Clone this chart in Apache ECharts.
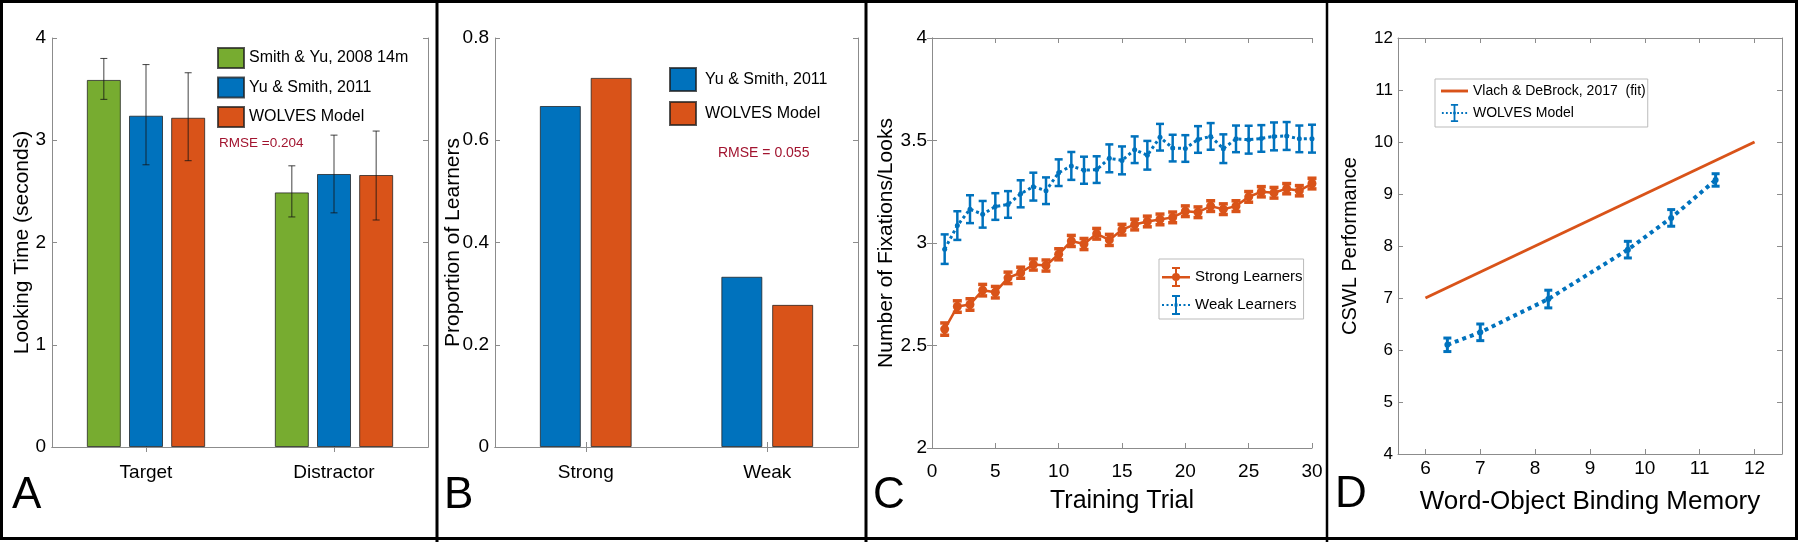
<!DOCTYPE html>
<html><head><meta charset="utf-8">
<script src="https://cdn.jsdelivr.net/npm/echarts@6/dist/echarts.min.js"></script>
<style>html,body{margin:0;padding:0;background:#fff}#c{width:1800px;height:542px}</style>
</head><body><div id="c"></div><script>
// ---------- DATA ----------
// Panel A
const catsA = ['Target', 'Distractor'];
const smithYu2008 = [3.59, 2.49];
const smithYu2008Lo = [3.40, 2.25];
const smithYu2008Hi = [3.80, 2.75];
const yuSmith2011A = [3.24, 2.67];
const yuSmith2011ALo = [2.76, 2.29];
const yuSmith2011AHi = [3.74, 3.05];
const wolvesA = [3.22, 2.66];
const wolvesALo = [2.80, 2.22];
const wolvesAHi = [3.66, 3.09];
const yTicksA = [0, 1, 2, 3, 4];
// Panel B
const catsB = ['Strong', 'Weak'];
const yuSmith2011B = [0.667, 0.333];
const wolvesB = [0.722, 0.278];
const yTicksB = [0, 0.2, 0.4, 0.6, 0.8];
// Panel C
const trials = [1,2,3,4,5,6,7,8,9,10,11,12,13,14,15,16,17,18,19,20,21,22,23,24,25,26,27,28,29,30];
const strongMean = [2.58,2.69,2.70,2.77,2.76,2.83,2.855,2.895,2.89,2.945,3.01,2.995,3.045,3.015,3.065,3.09,3.105,3.115,3.125,3.155,3.15,3.18,3.165,3.18,3.225,3.25,3.245,3.265,3.255,3.29];
const strongErr = [0.03,0.028,0.028,0.028,0.028,0.028,0.027,0.027,0.027,0.027,0.027,0.027,0.026,0.027,0.026,0.026,0.026,0.026,0.026,0.026,0.026,0.026,0.026,0.026,0.026,0.025,0.026,0.025,0.025,0.026];
const weakMean = [2.97,3.085,3.165,3.14,3.178,3.188,3.24,3.275,3.255,3.343,3.376,3.355,3.358,3.413,3.403,3.455,3.428,3.516,3.463,3.461,3.505,3.52,3.46,3.508,3.504,3.51,3.52,3.522,3.508,3.509];
const weakErr = [0.072,0.07,0.068,0.065,0.065,0.065,0.066,0.068,0.065,0.065,0.068,0.066,0.065,0.068,0.068,0.065,0.07,0.065,0.065,0.065,0.065,0.065,0.07,0.065,0.068,0.065,0.068,0.068,0.065,0.068];
const xTicksC = [0, 5, 10, 15, 20, 25, 30];
const yTicksC = [2, 2.5, 3, 3.5, 4];
// Panel D
const fitX = [6, 12];
const fitY = [7, 10];
const memoryX = [6.4, 7.0, 8.24, 9.69, 10.48, 11.29];
const cswlModel = [6.10, 6.34, 6.98, 7.93, 8.54, 9.27];
const cswlErr = [0.13, 0.16, 0.17, 0.16, 0.16, 0.12];
const xTicksD = [6, 7, 8, 9, 10, 11, 12];
const yTicksD = [4, 5, 6, 7, 8, 9, 10, 11, 12];

const legendNames = {
  A_sy08: 'Smith & Yu, 2008 14m', A_ys11: 'Yu & Smith, 2011', A_wol: 'WOLVES Model',
  B_ys11: 'Yu & Smith, 2011', B_wol: 'WOLVES Model',
  C_strong: 'Strong Learners', C_weak: 'Weak Learners',
  D_fit: 'Vlach & DeBrock, 2017  (fit)', D_wol: 'WOLVES Model'
};

// ---------- STYLE ----------
const GREEN = '#77AC30', BLUE = '#0072BD', ORANGE = '#D95319', RMSE_C = '#A2142F';
const AX = '#8c8c8c';
const REG = "'Liberation Sans',Arial,sans-serif";

// legend icon shapes (28 x 20 box)
const ICON_BEAM = 'M10,0h8v2h-3v16h3v2h-8v-2h3v-16h-3z';
const ICON_DOTS = 'M0,9h2v2h-2zM4.5,9h2v2h-2zM9,9h2v2h-2zM17,9h2v2h-2zM21.5,9h2v2h-2zM26,9h2v2h-2z';
const ICON_DOT = 'M12.5,8.5h3v3h-3z';
const ICON_SOLID = 'M0,9h28v2.5h-28z';
const ICON_CIRCLE = 'M10,10a4,4 0 1,1 8,0a4,4 0 1,1 -8,0z';

const grids = [
  {left: 52, top: 38, width: 376, height: 409},
  {left: 495, top: 38, width: 363, height: 409},
  {left: 932, top: 38, width: 380, height: 410},
  {left: 1398, top: 38, width: 384, height: 416}
];

function lineStyleAx() { return {show: true, lineStyle: {color: AX, width: 1}}; }
function tickStyle(custom) {
  const t = {show: true, inside: true, length: 5, lineStyle: {color: AX, width: 1}};
  if (custom) t.customValues = custom;
  return t;
}

function catAxis(g, data, pos, label) {
  return {
    type: 'category', gridIndex: g, data: data, position: pos, boundaryGap: true,
    axisLine: lineStyleAx(), axisTick: Object.assign(tickStyle(), {alignWithLabel: true}),
    axisLabel: label ? label : {show: false}, splitLine: {show: false}
  };
}
function valAxis(g, pos, ticks, label, name, nameOpt, minV, maxV) {
  const ax = {
    type: 'value', gridIndex: g, position: pos,
    min: minV !== undefined ? minV : ticks[0], max: maxV !== undefined ? maxV : ticks[ticks.length - 1],
    axisLine: lineStyleAx(), axisTick: tickStyle(ticks),
    axisLabel: label ? Object.assign({customValues: ticks}, label) : {show: false},
    splitLine: {show: false}
  };
  if (name) Object.assign(ax, {name: name, nameLocation: 'middle', nameMoveOverlap: false}, nameOpt);
  return ax;
}

const lab = (size, margin) => ({show: true, color: '#000', fontFamily: REG, fontSize: size, margin: margin});
const yName = (gap, size) => ({nameGap: gap, nameRotate: 90, nameTextStyle: {color: '#000', fontFamily: REG, fontSize: size}});

const xAxes = [
  catAxis(0, catsA, 'bottom', lab(19, 16)),
  catAxis(0, catsA, 'top', null),
  catAxis(1, catsB, 'bottom', lab(19, 16)),
  catAxis(1, catsB, 'top', null),
  valAxis(2, 'bottom', xTicksC, lab(19, 14), 'Training Trial',
    {nameGap: 41, nameTextStyle: {color: '#000', fontFamily: REG, fontSize: 25}}),
  valAxis(2, 'top', xTicksC, null),
  valAxis(3, 'bottom', xTicksD, lab(19, 5), 'Word-Object Binding Memory',
    {nameGap: 35, nameTextStyle: {color: '#000', fontFamily: REG, fontSize: 26}}, 5.5, 12.5),
  valAxis(3, 'top', xTicksD, null, null, null, 5.5, 12.5)
];
const yAxes = [
  valAxis(0, 'left', yTicksA, lab(19, 6), 'Looking Time (seconds)', yName(19, 21)),
  valAxis(0, 'right', yTicksA, null),
  valAxis(1, 'left', yTicksB, lab(19, 6), 'Proportion of Learners', yName(31, 21)),
  valAxis(1, 'right', yTicksB, null),
  valAxis(2, 'left', yTicksC, lab(19, 5), 'Number of Fixations/Looks', yName(35, 21)),
  valAxis(2, 'right', yTicksC, null),
  valAxis(3, 'left', yTicksD, lab(17, 5), 'CSWL Performance', yName(38, 20)),
  valAxis(3, 'right', yTicksD, null)
];

// error bars for grouped bars
function barErr(idx, n, bw, gapR, cap, color, lw) {
  return function (params, api) {
    const pLo = api.coord([api.value(0), api.value(1)]);
    const pHi = api.coord([api.value(0), api.value(2)]);
    const cx = pLo[0] + (idx - (n - 1) / 2) * bw * (1 + gapR);
    const st = {stroke: color, lineWidth: lw};
    return {type: 'group', children: [
      {type: 'line', shape: {x1: cx, y1: pLo[1], x2: cx, y2: pHi[1]}, style: st},
      {type: 'line', shape: {x1: cx - cap, y1: pLo[1], x2: cx + cap, y2: pLo[1]}, style: st},
      {type: 'line', shape: {x1: cx - cap, y1: pHi[1], x2: cx + cap, y2: pHi[1]}, style: st}
    ]};
  };
}
function pointErr(cap, color, lw) {
  return function (params, api) {
    const pLo = api.coord([api.value(0), api.value(1)]);
    const pHi = api.coord([api.value(0), api.value(2)]);
    const cx = pLo[0];
    const st = {stroke: color, lineWidth: lw};
    return {type: 'group', children: [
      {type: 'line', shape: {x1: cx, y1: pLo[1], x2: cx, y2: pHi[1]}, style: st},
      {type: 'line', shape: {x1: cx - cap, y1: pLo[1], x2: cx + cap, y2: pLo[1]}, style: st},
      {type: 'line', shape: {x1: cx - cap, y1: pHi[1], x2: cx + cap, y2: pHi[1]}, style: st}
    ]};
  };
}
const catErrData = (lo, hi) => lo.map((v, i) => [i, v, hi[i]]);
const ptErrData = (xs, m, e) => xs.map((x, i) => [x, m[i] - e[i], m[i] + e[i]]);
const pairs = (xs, ys) => xs.map((x, i) => [x, ys[i]]);

const BW_A = 34, GAP_A = 0.24, BW_B = 41;
const barBorder = {borderColor: 'rgba(30,30,30,0.75)', borderWidth: 1};
const errCol = 'rgba(20,20,20,0.8)';

const series = [
  // A
  {type: 'bar', name: 'A_sy08', xAxisIndex: 0, yAxisIndex: 0, data: smithYu2008, barWidth: BW_A, barGap: '24%', itemStyle: Object.assign({color: GREEN}, barBorder)},
  {type: 'bar', name: 'A_ys11', xAxisIndex: 0, yAxisIndex: 0, data: yuSmith2011A, barWidth: BW_A, barGap: '24%', itemStyle: Object.assign({color: BLUE}, barBorder)},
  {type: 'bar', name: 'A_wol', xAxisIndex: 0, yAxisIndex: 0, data: wolvesA, barWidth: BW_A, barGap: '24%', itemStyle: Object.assign({color: ORANGE}, barBorder)},
  {type: 'custom', xAxisIndex: 0, yAxisIndex: 0, data: catErrData(smithYu2008Lo, smithYu2008Hi), encode: {x: 0, y: [1, 2]}, renderItem: barErr(0, 3, BW_A, GAP_A, 3.5, errCol, 1), z: 5, silent: true},
  {type: 'custom', xAxisIndex: 0, yAxisIndex: 0, data: catErrData(yuSmith2011ALo, yuSmith2011AHi), encode: {x: 0, y: [1, 2]}, renderItem: barErr(1, 3, BW_A, GAP_A, 3.5, errCol, 1), z: 5, silent: true},
  {type: 'custom', xAxisIndex: 0, yAxisIndex: 0, data: catErrData(wolvesALo, wolvesAHi), encode: {x: 0, y: [1, 2]}, renderItem: barErr(2, 3, BW_A, GAP_A, 3.5, errCol, 1), z: 5, silent: true},
  // B
  {type: 'bar', name: 'B_ys11', xAxisIndex: 2, yAxisIndex: 2, data: yuSmith2011B, barWidth: BW_B, barGap: '24%', itemStyle: Object.assign({color: BLUE}, barBorder)},
  {type: 'bar', name: 'B_wol', xAxisIndex: 2, yAxisIndex: 2, data: wolvesB, barWidth: BW_B, barGap: '24%', itemStyle: Object.assign({color: ORANGE}, barBorder)},
  // C
  {type: 'line', name: 'C_strong', xAxisIndex: 4, yAxisIndex: 4, data: pairs(trials, strongMean), symbol: 'circle', symbolSize: 9,
    lineStyle: {color: ORANGE, width: 2.5}, itemStyle: {color: ORANGE}, z: 3},
  {type: 'custom', xAxisIndex: 4, yAxisIndex: 4, data: ptErrData(trials, strongMean, strongErr), encode: {x: 0, y: [1, 2]}, renderItem: pointErr(4.5, ORANGE, 3.5), z: 4, silent: true},
  {type: 'line', name: 'C_weak', xAxisIndex: 4, yAxisIndex: 4, data: pairs(trials, weakMean), symbol: 'circle', symbolSize: 5,
    lineStyle: {color: BLUE, width: 3, type: 'dotted'}, itemStyle: {color: BLUE}, z: 3},
  {type: 'custom', xAxisIndex: 4, yAxisIndex: 4, data: ptErrData(trials, weakMean, weakErr), encode: {x: 0, y: [1, 2]}, renderItem: pointErr(4, BLUE, 2.5), z: 4, silent: true},
  // D
  {type: 'line', name: 'D_fit', xAxisIndex: 6, yAxisIndex: 6, data: pairs(fitX, fitY), symbol: 'none', lineStyle: {color: ORANGE, width: 3}, itemStyle: {color: ORANGE}},
  {type: 'line', name: 'D_wol', xAxisIndex: 6, yAxisIndex: 6, data: pairs(memoryX, cswlModel), symbol: 'circle', symbolSize: 6,
    lineStyle: {color: BLUE, width: 4, type: 'dotted'}, itemStyle: {color: BLUE}, z: 3},
  {type: 'custom', xAxisIndex: 6, yAxisIndex: 6, data: ptErrData(memoryX, cswlModel, cswlErr), encode: {x: 0, y: [1, 2]}, renderItem: pointErr(4, BLUE, 3), z: 4, silent: true}
];

const fmt = n => legendNames[n];
const legends = [
  {left: 217, top: 47, orient: 'vertical', itemWidth: 26, itemHeight: 20, itemGap: 7.5, icon: 'rect', padding: 0,
    data: ['A_sy08', 'A_ys11', 'A_wol'], formatter: fmt, selectedMode: false,
    textStyle: {fontFamily: REG, fontSize: 16, color: '#000'}},
  {left: 669, top: 67, orient: 'vertical', itemWidth: 26, itemHeight: 23, itemGap: 9, icon: 'rect', padding: 0,
    data: ['B_ys11', 'B_wol'], formatter: fmt, selectedMode: false,
    textStyle: {fontFamily: REG, fontSize: 16, color: '#000', padding: [0, 0, 0, 4]}},
  {left: 1159, top: 259, orient: 'vertical', itemWidth: 28, itemHeight: 20, itemGap: 8, padding: [8, 1, 4, 3],
    borderColor: '#bbb', borderWidth: 1, selectedMode: false, formatter: fmt,
    data: [
      {name: 'C_strong', icon: 'path://' + ICON_SOLID + ICON_BEAM + ICON_CIRCLE},
      {name: 'C_weak', icon: 'path://' + ICON_DOTS + ICON_BEAM + ICON_DOT}
    ],
    textStyle: {fontFamily: REG, fontSize: 15, color: '#000'}},
  {left: 1435, top: 79, orient: 'vertical', itemWidth: 27, itemHeight: 18, itemGap: 6, padding: [5, 2, 5, 6],
    borderColor: '#bbb', borderWidth: 1, selectedMode: false, formatter: fmt,
    data: [
      {name: 'D_fit', icon: 'path://M0,0h28v3h-28z'},
      {name: 'D_wol', icon: 'path://' + ICON_DOTS + ICON_BEAM + ICON_DOT}
    ],
    textStyle: {fontFamily: REG, fontSize: 14, color: '#000'}}
];

const graphic = [
  {type: 'rect', shape: {x: 1.5, y: 1.5, width: 1795, height: 537}, style: {fill: 'none', stroke: '#000', lineWidth: 3}, silent: true},
  {type: 'line', shape: {x1: 437, y1: 0, x2: 437, y2: 542}, style: {stroke: '#000', lineWidth: 3}, silent: true},
  {type: 'line', shape: {x1: 866, y1: 0, x2: 866, y2: 542}, style: {stroke: '#000', lineWidth: 3}, silent: true},
  {type: 'line', shape: {x1: 1327, y1: 0, x2: 1327, y2: 542}, style: {stroke: '#000', lineWidth: 2.5}, silent: true},
  {type: 'text', x: 12, y: 496, style: {text: 'A', font: '44px ' + REG, fill: '#000', verticalAlign: 'middle'}},
  {type: 'text', x: 444, y: 496, style: {text: 'B', font: '44px ' + REG, fill: '#000', verticalAlign: 'middle'}},
  {type: 'text', x: 873, y: 496, style: {text: 'C', font: '44px ' + REG, fill: '#000', verticalAlign: 'middle'}},
  {type: 'text', x: 1335, y: 495, style: {text: 'D', font: '44px ' + REG, fill: '#000', verticalAlign: 'middle'}},
  {type: 'text', x: 219, y: 143, style: {text: 'RMSE =0.204', font: '13.5px ' + REG, fill: RMSE_C, verticalAlign: 'middle'}},
  {type: 'text', x: 718, y: 153, style: {text: 'RMSE = 0.055', font: '14px ' + REG, fill: RMSE_C, verticalAlign: 'middle'}}
];

const chart = echarts.init(document.getElementById('c'), null, {renderer: 'canvas'});
chart.setOption({
  animation: false,
  backgroundColor: '#fff',
  grid: grids,
  xAxis: xAxes,
  yAxis: yAxes,
  legend: legends,
  series: series,
  graphic: graphic
});
</script></body></html>
